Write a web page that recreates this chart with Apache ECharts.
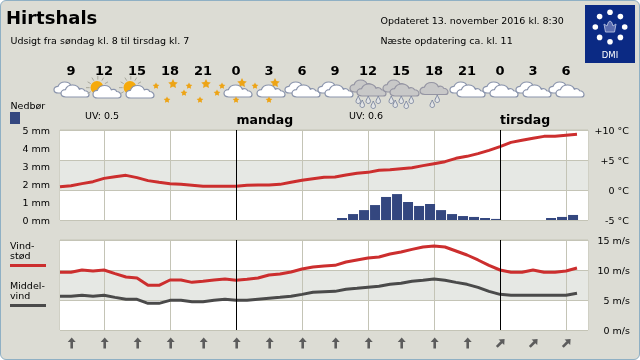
<!DOCTYPE html>
<html>
<head>
<meta charset="utf-8">
<script src="https://cdn.jsdelivr.net/npm/echarts@6/dist/echarts.min.js"></script>
<style>
  body { margin: 0; background: #fff; }
  #frame { position: absolute; left: 0; top: 0; width: 640px; height: 360px; box-sizing: border-box;
           background: #dcdcd4; border: 1px solid #8fb0c4; border-radius: 6px; }
  #chart { position: absolute; left: 0; top: 0; width: 640px; height: 360px; }
</style>
</head>
<body>
<div id="frame"></div>
<div id="chart"></div>
<script>
var FONT = '"DejaVu Sans", sans-serif';

// timer regnet fra søndag kl. 0, ét tal pr. time fra kl. 8
var firstHour = 8;
var temperature = [0.56, 0.72, 1.06, 1.39, 1.94, 2.22, 2.44, 2.06, 1.56, 1.28, 1.06, 0.94, 0.78, 0.61, 0.61, 0.61,
  0.61, 0.78, 0.83, 0.83, 0.94, 1.28, 1.61, 1.89, 2.11, 2.17, 2.5, 2.78, 2.94, 3.28, 3.39, 3.56,
  3.72, 4.06, 4.39, 4.72, 5.28, 5.61, 6.06, 6.61, 7.22, 7.94, 8.28, 8.61, 8.94, 8.94, 9.11, 9.28];
var rain = [0, 0, 0, 0, 0, 0, 0, 0, 0, 0, 0, 0, 0, 0, 0, 0,
  0, 0, 0, 0, 0, 0, 0, 0, 0, 0.11, 0.33, 0.55, 0.83, 1.28, 1.44, 1.0,
  0.78, 0.89, 0.55, 0.33, 0.22, 0.17, 0.11, 0.06, 0, 0, 0, 0, 0.11, 0.17, 0.28, 0];
var gust = [9.61, 9.61, 10, 9.83, 10, 9.39, 8.83, 8.67, 7.44, 7.44, 8.33, 8.33, 7.94, 8.11, 8.33, 8.5,
  8.28, 8.44, 8.67, 9.17, 9.33, 9.67, 10.17, 10.5, 10.67, 10.78, 11.33, 11.67, 12, 12.17, 12.67, 13,
  13.44, 13.83, 14, 13.83, 13.17, 12.5, 11.67, 10.78, 10, 9.61, 9.61, 10, 9.61, 9.61, 9.83, 10.33];
var meanWind = [5.61, 5.61, 5.78, 5.61, 5.78, 5.44, 5.11, 5.11, 4.44, 4.44, 4.94, 4.94, 4.72, 4.72, 4.94, 5.11,
  4.94, 4.94, 5.11, 5.28, 5.44, 5.61, 5.94, 6.28, 6.39, 6.44, 6.78, 6.94, 7.11, 7.28, 7.61, 7.78,
  8.11, 8.28, 8.5, 8.28, 7.94, 7.61, 7.11, 6.44, 5.94, 5.78, 5.78, 5.78, 5.78, 5.78, 5.78, 6.11];

var iconHours = [9, 12, 15, 18, 21, 24, 27, 30, 33, 36, 39, 42, 45, 48, 51, 54];
var iconKinds = ['cloudy', 'sun', 'sun', 'night', 'night', 'nightcloud', 'nightcloud', 'cloudy',
  'cloudy', 'rain', 'rain', 'showers', 'cloudy', 'cloudy', 'cloudy', 'cloudy'];
var windDirs = [0, 0, 0, 0, 0, 0, 0, 0, 0, 0, 0, 0, 0, 45, 45, 45];
var gridHours = [12, 18, 24, 30, 36, 42, 48, 54];
var dayHours = [24, 48];

function hourSeries(values, shift) {
  return values.map(function (v, i) { return [firstHour + i + (shift || 0), v]; });
}

var CLOUD = 'M5 12C2 12 0 10.5 0 8.5C0 6.5 2 5 4.5 5C5.5 2.5 8.5 .5 12 .5C15.5 .5 18 2 19 4.5C20.5 3.5 23.5 4 24.5 6C27 6 29 7.8 29 9.5C29 11 27.5 12 26 12Z';
var DROP = 'M2 0C2.6 2 4 3.5 4 5C4 6.2 3.1 7 2 7C.9 7 0 6.2 0 5C0 3.5 1.4 2 2 0Z';
var RAYS = 'M-7.6 0L-11 0M-6.6 -3.8L-9.5 -5.5M-3.8 -6.6L-5.5 -9.5M0 -7.6L0 -11M3.8 -6.6L5.5 -9.5M6.6 -3.8L9.5 -5.5M-6.6 3.8L-9.5 5.5';
var ARROW = 'M0 -5.5L4 -1L1.3 -1L1.3 5.5L-1.3 5.5L-1.3 -1L-4 -1Z';

function cloud(x, y, w, h, fill, stroke) {
  return { type: 'path', shape: { pathData: CLOUD, x: x, y: y, width: w, height: h, layout: 'cover' },
    style: { fill: fill, stroke: stroke, lineWidth: 1.2 } };
}
function star(x, y, r) {
  var pts = [];
  for (var i = 0; i < 10; i++) {
    var a = -Math.PI / 2 + i * Math.PI / 5, q = i % 2 ? r * 0.5 : r;
    pts.push([x + q * Math.cos(a), y + q * Math.sin(a)]);
  }
  return { type: 'polygon', shape: { points: pts }, style: { fill: '#eda416' } };
}
function drop(x, y) {
  return { type: 'path', shape: { pathData: DROP, x: x, y: y, width: 4.5, height: 7.5, layout: 'cover' },
    style: { fill: '#e2e4e6', stroke: '#7e88a0', lineWidth: 1 } };
}
function sun() {
  return [
    { type: 'path', shape: { pathData: RAYS, x: -18, y: -4, width: 22, height: 17.5, layout: 'cover' },
      style: { fill: 'none', stroke: '#a8a89c', lineWidth: 1 } },
    { type: 'circle', shape: { cx: -7, cy: 7.5, r: 6.5 }, style: { fill: '#f6aa0c' } }
  ];
}

var WHITE = '#ffffff', WEDGE = '#8a94ac', GREY = '#c8c8c8', GEDGE = '#9494a2';

function iconParts(kind) {
  if (kind === 'cloudy') {
    return [cloud(-17, 2, 26, 11, WHITE, WEDGE), cloud(-10, 5, 28, 12, WHITE, WEDGE)];
  }
  if (kind === 'sun') {
    return sun().concat([cloud(-11, 5.5, 28, 12.5, WHITE, WEDGE)]);
  }
  if (kind === 'night') {
    return [star(-14, 6, 3.5), star(3, 4, 5), star(14, 13, 3.5), star(-3, 20, 3.5)];
  }
  if (kind === 'nightcloud') {
    return [star(-14, 6, 3.5), star(6, 3, 5), cloud(-12, 5, 28, 12, WHITE, WEDGE), star(0, 20, 3.5)];
  }
  if (kind === 'rain') {
    return [cloud(-18, 0, 26, 12, GREY, GEDGE), cloud(-11, 4, 29, 12, GREY, GEDGE),
      drop(-12, 16), drop(-8, 20), drop(-2, 16), drop(3, 21), drop(8, 16)];
  }
  return [cloud(-14, 2.5, 28, 12, GREY, GEDGE), drop(-4, 20), drop(1, 15)];
}

function renderIcon(params, api) {
  var p = api.coord([api.value(0), 0]);
  return { type: 'group', x: p[0], y: p[1], children: iconParts(iconKinds[params.dataIndex]) };
}
function renderArrow(params, api) {
  var p = api.coord([api.value(0), 0]);
  return { type: 'path', x: p[0] + 0.7, y: p[1], rotation: -windDirs[params.dataIndex] * Math.PI / 180,
    shape: { pathData: ARROW, x: -4, y: -5.5, width: 8, height: 11, layout: 'cover' },
    style: { fill: '#5c5c5c' } };
}

function txt(text, x, y, size, bold, align) {
  return { type: 'text', silent: true, x: x, y: y,
    style: { text: text, fontFamily: FONT, fontSize: size, fontWeight: bold ? 'bold' : 'normal',
      fill: '#000', align: align || 'left', verticalAlign: 'middle' } };
}
function rect(x, y, w, h, color) {
  return { type: 'rect', silent: true, shape: { x: x, y: y, width: w, height: h }, style: { fill: color } };
}

// DMI-logo
var logo = [rect(585, 5, 50, 58, '#0b2a84')];
for (var i = 0; i < 8; i++) {
  var a = i * Math.PI / 4;
  logo.push({ type: 'circle', silent: true,
    shape: { cx: 610 + 14.7 * Math.cos(a), cy: 27 + 14.7 * Math.sin(a), r: 2.8 }, style: { fill: '#fff' } });
}
logo.push({ type: 'polygon', silent: true,
  shape: { points: [[604, 24], [607, 26], [608.5, 22], [610, 21], [611.5, 22], [613, 26], [616, 24], [614.5, 32], [605.5, 32]] },
  style: { fill: '#5a6cb0', stroke: '#aab6da', lineWidth: 1 } });
logo.push({ type: 'text', silent: true, x: 610, y: 56,
  style: { text: 'DMI', fontFamily: FONT, fontSize: 8.5, fill: '#fff', align: 'center', verticalAlign: 'middle' } });

var texts = [
  txt('Hirtshals', 6, 19, 18, true),
  txt('Udsigt fra søndag kl. 8 til tirsdag kl. 7', 10.5, 41.5, 9.5),
  txt('Opdateret 13. november 2016 kl. 8:30', 380.5, 21.5, 9.5),
  txt('Næste opdatering ca. kl. 11', 380.5, 41.5, 9.5),
  txt('Nedbør', 10.5, 106.5, 9.5),
  rect(10, 112, 10, 12, '#34477f'),
  txt('UV: 0.5', 85, 116.5, 9.5),
  txt('UV: 0.6', 349, 116.5, 9.5),
  txt('mandag', 236.5, 120.5, 12.5, true),
  txt('tirsdag', 500, 120.5, 12.5, true),
  txt('Vind-', 10, 247, 9.5),
  txt('stød', 10, 256.5, 9.5),
  rect(10, 264, 36, 3, '#cc2e2e'),
  txt('Middel-', 10, 287, 9.5),
  txt('vind', 10, 297, 9.5),
  rect(10, 304, 36, 3, '#4a4a4a')
];

var hourAxis = function (gridIndex) {
  return {
    type: 'value', gridIndex: gridIndex, min: firstHour, max: firstHour + 48,
    axisLine: { show: false }, axisLabel: { show: false },
    axisTick: { show: false, customValues: gridHours },
    splitLine: { show: true, lineStyle: { color: '#c4c4b6', width: 1 } }
  };
};
var bandColors = ['#ffffff', '#e6e8e4'];
var edge = { color: '#c4c4b6', width: 1 };

var option = {
  animation: false,
  backgroundColor: 'transparent',
  textStyle: { fontFamily: FONT },
  graphic: { elements: logo.concat(texts) },
  grid: [
    { left: 60, width: 528, top: 130, height: 90, show: true, backgroundColor: '#fff', borderColor: '#c4c4b6', borderWidth: 1 },
    { left: 60, width: 528, top: 240, height: 90, show: true, backgroundColor: '#fff', borderColor: '#c4c4b6', borderWidth: 1 },
    { left: 60, width: 528, top: 80, height: 30, show: false },
    { left: 60, width: 528, top: 343, height: 10, show: false }
  ],
  xAxis: [
    hourAxis(0),
    hourAxis(1),
    { type: 'value', gridIndex: 2, min: firstHour, max: firstHour + 48, position: 'top',
      axisLine: { show: false }, axisTick: { show: false }, splitLine: { show: false },
      axisLabel: { customValues: iconHours, margin: 2, fontFamily: FONT, fontSize: 13, fontWeight: 'bold', color: '#000',
        formatter: function (h) { return String(h % 24); } } },
    { type: 'value', gridIndex: 3, min: firstHour, max: firstHour + 48, show: false }
  ],
  yAxis: [
    { type: 'value', gridIndex: 0, min: 0, max: 5, interval: 1, position: 'left',
      axisLine: { show: false }, axisTick: { show: false }, splitLine: { show: false },
      axisLabel: { margin: 10, fontFamily: FONT, fontSize: 9.5, color: '#000', verticalAlign: 'top', lineHeight: 3.5,
        formatter: '{value} mm' } },
    { type: 'value', gridIndex: 0, min: -5, max: 10, interval: 5, position: 'right',
      axisLine: { show: false }, axisTick: { show: false },
      splitLine: { show: true, lineStyle: edge },
      splitArea: { show: true, areaStyle: { color: bandColors } },
      axisLabel: { margin: 41, align: 'right', fontFamily: FONT, fontSize: 9.5, color: '#000', verticalAlign: 'top', lineHeight: 3.5,
        formatter: function (v) { return (v > 0 ? '+' : '') + v + ' °C'; } } },
    { type: 'value', gridIndex: 1, min: 0, max: 15, interval: 5, position: 'right',
      axisLine: { show: false }, axisTick: { show: false },
      splitLine: { show: true, lineStyle: edge },
      splitArea: { show: true, areaStyle: { color: bandColors } },
      axisLabel: { margin: 42, align: 'right', fontFamily: FONT, fontSize: 9.5, color: '#000', verticalAlign: 'top', lineHeight: 3.5,
        formatter: '{value} m/s' } },
    { type: 'value', gridIndex: 2, min: 0, max: 30, inverse: true, show: false },
    { type: 'value', gridIndex: 3, min: 0, max: 10, inverse: true, show: false }
  ],
  series: [
    { name: 'Nedbør', type: 'bar', xAxisIndex: 0, yAxisIndex: 0, barWidth: 10, z: 2, silent: true,
      itemStyle: { color: '#34477f' }, data: hourSeries(rain, 0.64) },
    { type: 'line', xAxisIndex: 0, yAxisIndex: 1, z: 3, data: [], silent: true,
      markLine: { silent: true, symbol: 'none', label: { show: false }, animation: false,
        lineStyle: { color: '#000', width: 1, type: 'solid' },
        data: dayHours.map(function (h) { return { xAxis: h }; }) } },
    { name: 'Temperatur', type: 'line', xAxisIndex: 0, yAxisIndex: 1, z: 4, showSymbol: false, silent: true,
      lineStyle: { color: '#cc2e2e', width: 3 }, data: hourSeries(temperature) },
    { type: 'line', xAxisIndex: 1, yAxisIndex: 2, z: 3, data: [], silent: true,
      markLine: { silent: true, symbol: 'none', label: { show: false }, animation: false,
        lineStyle: { color: '#000', width: 1, type: 'solid' },
        data: dayHours.map(function (h) { return { xAxis: h }; }) } },
    { name: 'Vindstød', type: 'line', xAxisIndex: 1, yAxisIndex: 2, z: 4, showSymbol: false, silent: true,
      lineStyle: { color: '#cc2e2e', width: 3 }, data: hourSeries(gust) },
    { name: 'Middelvind', type: 'line', xAxisIndex: 1, yAxisIndex: 2, z: 4, showSymbol: false, silent: true,
      lineStyle: { color: '#4a4a4a', width: 3 }, data: hourSeries(meanWind) },
    { type: 'custom', xAxisIndex: 2, yAxisIndex: 3, silent: true, renderItem: renderIcon,
      data: iconHours.map(function (h) { return [h, 0]; }) },
    { type: 'custom', xAxisIndex: 3, yAxisIndex: 4, silent: true, renderItem: renderArrow,
      data: iconHours.map(function (h) { return [h, 0]; }) }
  ]
};

var chart = echarts.init(document.getElementById('chart'));
chart.setOption(option);
</script>
</body>
</html>
